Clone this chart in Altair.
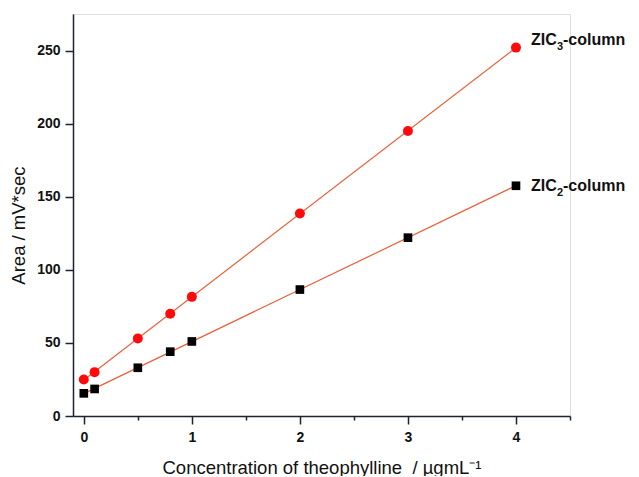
import altair as alt
import pandas as pd

conc = [0, 0.1, 0.5, 0.8, 1, 2, 3, 4]
zic3 = [25, 30, 53, 70, 81.5, 138.5, 195, 252]
zic2 = [15.5, 18.5, 33, 44, 51, 86.5, 122, 157.5]

df3 = pd.DataFrame({"x": conc, "y": zic3})
df2 = pd.DataFrame({"x": conc, "y": zic2})

FONT = "Liberation Sans"
AX = "#1c2233"

xs = alt.Scale(domain=[-0.1, 4.5], nice=False, zero=False)
ys = alt.Scale(domain=[0, 275], nice=False)

xenc = alt.X("x:Q", scale=xs, axis=alt.Axis(
    values=[0, 0.5, 1, 1.5, 2, 2.5, 3, 3.5, 4, 4.5],
    labelExpr="datum.value % 1 == 0 ? format(datum.value, 'd') : ''",
    title="Concentration of theophylline\u00a0\u00a0/ µgmL⁻¹",
    grid=False, domainColor=AX, tickColor=AX,
    tickSize={"condition": {"test": "datum.value % 1 == 0", "value": 8}, "value": 4},
    domainWidth=1.5, tickWidth=1.5,
    labelFont=FONT, labelFontWeight="bold", labelFontSize=14, labelColor="#111",
    labelPadding=6, titleFont=FONT, titleFontWeight="normal", titleFontSize=18.5,
    titleColor="#111", titleY=51, titleBaseline="middle"))
yenc = alt.Y("y:Q", scale=ys, axis=alt.Axis(
    values=list(range(0, 276, 25)),
    labelExpr="datum.value % 50 == 0 ? datum.label : ''",
    title="Area / mV*sec",
    grid=False, domainColor=AX, tickColor=AX,
    tickSize={"condition": {"test": "datum.value % 50 == 0", "value": 8}, "value": 4},
    domainWidth=1.5, tickWidth=1.5,
    labelFont=FONT, labelFontWeight="bold", labelFontSize=14, labelColor="#111",
    labelPadding=5, titleFont=FONT, titleFontWeight="normal", titleFontSize=18.5,
    titleColor="#111", titleX=-55, titleY=211, titleBaseline="middle"))

line_color = "#e8603a"

fit3 = alt.Chart(df3).transform_regression("x", "y").mark_line(
    color=line_color, strokeWidth=1.2).encode(x=xenc, y=yenc)
fit2 = alt.Chart(df2).transform_regression("x", "y").mark_line(
    color=line_color, strokeWidth=1.2).encode(x=xenc, y=yenc)

pts3 = alt.Chart(df3).mark_point(shape="circle", filled=True, color="#ff0a0a",
                                  opacity=1, size=100).encode(x=xenc, y=yenc)
pts2 = alt.Chart(df2).mark_point(shape="square", filled=True, color="#000000",
                                  opacity=1, size=75).encode(x=xenc, y=yenc)

lab3 = pd.DataFrame({"x": [conc[-1]], "y": [zic3[-1]]})
lab2 = pd.DataFrame({"x": [conc[-1]], "y": [zic2[-1]]})


def label(df, sub, dy):
    common = dict(align="left", baseline="middle", font=FONT, fontWeight="bold", color="#111")
    a = alt.Chart(df).mark_text(dx=15, dy=dy, fontSize=16, text="ZIC", **common).encode(
        x=alt.X("x:Q", scale=xs), y=alt.Y("y:Q", scale=ys))
    b = alt.Chart(df).mark_text(dx=41, dy=dy + 7, fontSize=11, text=sub, **common).encode(
        x=alt.X("x:Q", scale=xs), y=alt.Y("y:Q", scale=ys))
    c = alt.Chart(df).mark_text(dx=47, dy=dy, fontSize=16, text="-column", **common).encode(
        x=alt.X("x:Q", scale=xs), y=alt.Y("y:Q", scale=ys))
    return [a, b, c]


chart = alt.layer(fit3, fit2, pts3, pts2, *label(lab3, "3", -8), *label(lab2, "2", 0)).properties(
    width=497, height=402,
    autosize=alt.AutoSizeParams(type="none"),
    padding={"left": 65, "top": 6, "right": 58, "bottom": 60},
).configure_view(stroke=None).configure(background="white")

chart.save("out.html", embed_options={"renderer": "svg", "actions": False})
